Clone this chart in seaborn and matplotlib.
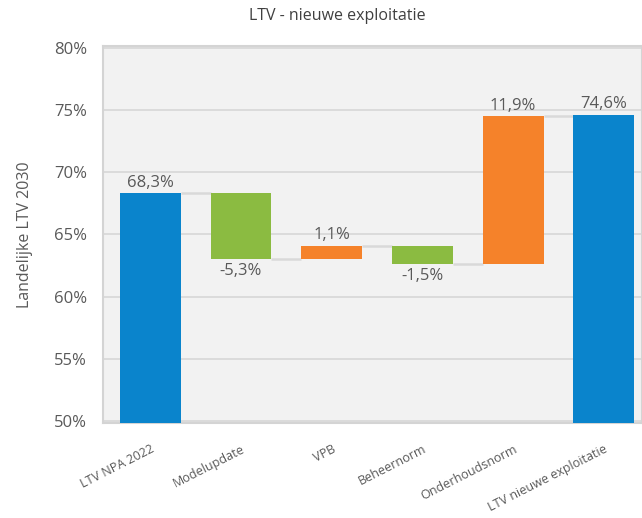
import matplotlib
matplotlib.use("Agg")
import matplotlib.pyplot as plt
import seaborn as sns
import pandas as pd

categories = ["LTV NPA 2022", "Modelupdate", "VPB", "Beheernorm", "Onderhoudsnorm", "LTV nieuwe exploitatie"]
changes = [68.3, -5.3, 1.1, -1.5, 11.9, 74.6]
kinds = ["total", "delta", "delta", "delta", "delta", "total"]
labels = ["68,3%", "-5,3%", "1,1%", "-1,5%", "11,9%", "74,6%"]
yticks = [50, 55, 60, 65, 70, 75, 80]

BLUE = "#0A84CC"
GREEN = "#8BBB41"
ORANGE = "#F5822A"
TEXT = "#595959"

# waterfall bottoms/heights derived from the data
bottoms, heights, ends = [], [], []
level = 0.0
for c, k in zip(changes, kinds):
    if k == "total":
        bottoms.append(0.0)
        heights.append(c)
        level = c
    else:
        bottoms.append(level if c >= 0 else level + c)
        heights.append(abs(c))
        level = level + c
    ends.append(level)

bar_colors = [BLUE if k == "total" else (ORANGE if c >= 0 else GREEN)
              for c, k in zip(changes, kinds)]

df = pd.DataFrame({"cat": categories, "h": heights})

sns.set_theme(style="white")
plt.rcParams["font.family"] = ["Open Sans", "DejaVu Sans"]

fig = plt.figure(figsize=(6.42, 5.18), dpi=100)
ax = fig.add_axes([0.1604, 0.1834, 0.8396, 0.7278])
ax.set_facecolor("#F2F2F2")

width = 0.67
sns.barplot(data=df, x="cat", y="h", order=categories, bottom=bottoms, width=width,
            ax=ax, color=BLUE, saturation=1, edgecolor="none", zorder=3)
for p, col in zip(ax.patches, bar_colors):
    p.set_facecolor(col)

# connectors
for i in range(len(categories) - 1):
    ax.plot([i + width / 2, i + 1 - width / 2], [ends[i], ends[i]],
            color="#D9D9D9", lw=1.8, zorder=2, solid_capstyle="butt")

# value labels
for i, (c, k) in enumerate(zip(changes, kinds)):
    top = bottoms[i] + heights[i]
    if k == "total" or c >= 0:
        ax.text(i, top + 0.22, labels[i], ha="center", va="bottom", fontsize=12, color=TEXT)
    else:
        ax.text(i, bottoms[i] - 0.3, labels[i], ha="center", va="top", fontsize=12, color=TEXT)

ax.set_ylim(49.85, 80.15)
ax.set_xlim(-0.52, 5.42)
ax.set_yticks(yticks)
ax.set_yticklabels([f"{v}%" for v in yticks], fontsize=12, color=TEXT)
ax.yaxis.grid(True, color="#D9D9D9", lw=1.3, zorder=0)
ax.set_axisbelow(True)
ax.tick_params(axis="y", length=0, pad=11.5)
ax.tick_params(axis="x", length=0, pad=14)
ax.set_xticks(range(len(categories)))
ax.set_xticklabels(categories, rotation=27, ha="right", va="top", rotation_mode="anchor",
                   fontsize=9, color=TEXT)
ax.set_xlabel("")
ax.set_ylabel("Landelijke LTV 2030", fontsize=11.5, color=TEXT)
ax.yaxis.set_label_coords(-0.13, 0.5)
for s in ax.spines.values():
    s.set_color("#D4D4D4")
    s.set_linewidth(1.5)

fig.text(0.525, 0.969, "LTV - nieuwe exploitatie", ha="center", va="center",
         fontsize=11.5, color="#404040")

fig.savefig("out.png", dpi=100, facecolor="white")
